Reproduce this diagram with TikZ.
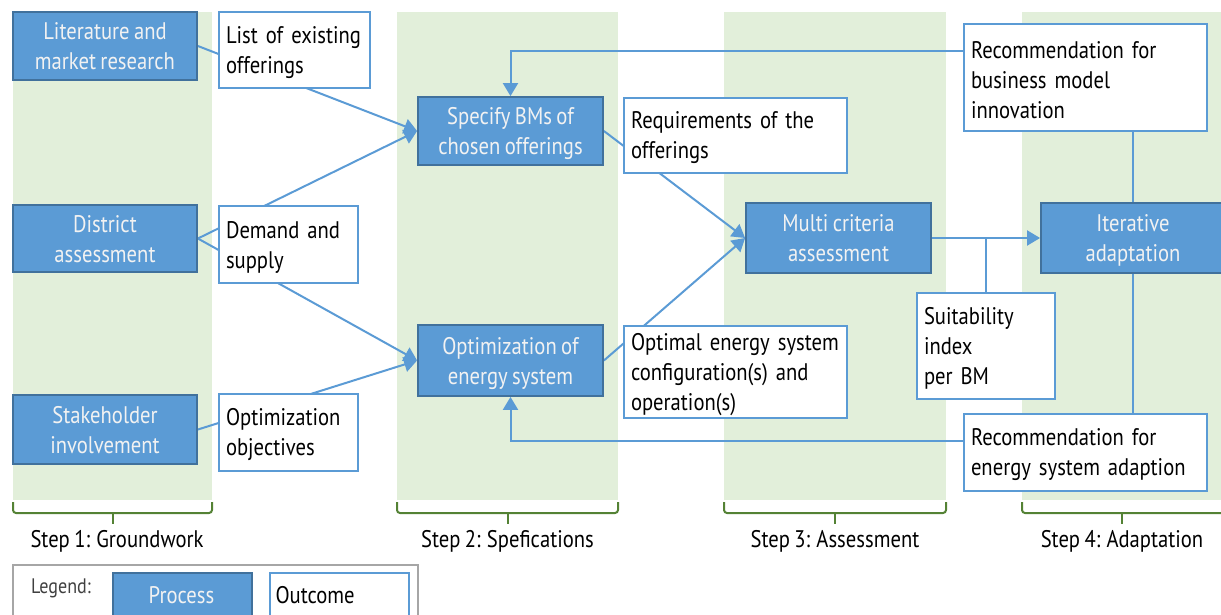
\documentclass[tikz,border=0pt]{standalone}
\usepackage{fontspec}
\setmainfont{PT Sans}[FakeStretch=0.86,WordSpace=0.8]
\usetikzlibrary{arrows.meta}
\definecolor{procfill}{HTML}{5B9BD5}
\definecolor{procborder}{HTML}{41719C}
\definecolor{ocborder}{HTML}{5B9BD5}
\definecolor{colgreen}{HTML}{E2EFDA}
\definecolor{bracegreen}{HTML}{548235}
\definecolor{legendgray}{HTML}{A6A6A6}
\definecolor{legendtext}{HTML}{404040}
\pgfdeclarelayer{bg}
\pgfdeclarelayer{lines}
\pgfsetlayers{bg,lines,main}
\tikzset{
  txt/.style={font=\fontsize{24}{30}\selectfont},
  pr/.style={txt, fill=procfill, draw=procborder, line width=1.8pt, text=white!95!black, align=center, inner sep=0pt, text depth=0pt},
  oc/.style={txt, fill=white, draw=ocborder, line width=1.8pt, align=left, inner xsep=7pt, inner ysep=0pt, execute at begin node={\rule{0pt}{22pt}}},
  conn/.style={draw=ocborder, line width=2pt},
  arr/.style={conn, -{Triangle[length=13pt,width=15pt]}},
  col/.style={fill=colgreen, draw=none},
  brace/.style={draw=bracegreen, line width=2pt, rounded corners=3pt},
  steplabel/.style={txt}
}
\begin{document}
\begin{tikzpicture}[x=1pt,y=-1pt]
\useasboundingbox (0,0) rectangle (1221,614);
% columns
\begin{pgfonlayer}{bg}
\fill[col] (13,12) rectangle (212,500);
\fill[col] (397,12) rectangle (618,500);
\fill[col] (724,12) rectangle (946,500);
\fill[col] (1022,12) rectangle (1230,500);
\end{pgfonlayer}
% process nodes
\node[pr, minimum width=184pt, minimum height=68pt] (lit) at (105,46) {Literature and\\market research};
\node[pr, minimum width=184pt, minimum height=67pt] (dist) at (105,238.5) {District\\assessment};
\node[pr, minimum width=184pt, minimum height=69pt] (stake) at (105,429.5) {Stakeholder\\involvement};
\node[pr, minimum width=185pt, minimum height=68pt] (spec) at (510.5,131) {Specify BMs of\\chosen offerings};
\node[pr, minimum width=185pt, minimum height=71pt] (opt) at (510.5,360.5) {Optimization of\\energy system};
\node[pr, minimum width=185pt, minimum height=70pt] (multi) at (838.5,238) {Multi criteria\\assessment};
\node[pr, minimum width=184pt, minimum height=70pt] (iter) at (1133,238) {Iterative\\adaptation};
% outcome nodes
\node[oc, text width=137pt, minimum height=76pt] (list) at (294.5,50) {List of existing\\offerings};
\node[oc, text width=125pt, minimum height=77pt] (dem) at (288.5,244.5) {Demand and\\supply};
\node[oc, text width=125pt, minimum height=77pt] (obj) at (288.5,432.5) {Optimization\\objectives};
\node[oc, text width=209pt, minimum height=75pt] (req) at (735.5,135.5) {Requirements of the\\offerings};
\node[oc, text width=209pt, minimum height=92pt] (optes) at (735.5,372) {Optimal energy system\\configuration(s) and\\operation(s)};
\node[oc, text width=229pt, minimum height=107pt] (recbus) at (1085.5,77.5) {Recommendation for\\business model\\innovation};
\node[oc, text width=124pt, minimum height=106pt] (suit) at (986,346) {Suitability\\index\\per BM};
\node[oc, text width=229pt, minimum height=77pt] (reces) at (1085.5,452.5) {Recommendation for\\energy system adaption};
% connectors
\begin{pgfonlayer}{lines}
\draw[arr] (lit.east) -- (spec.west);
\draw[arr] (dist.east) -- (spec.west);
\draw[arr] (dist.east) -- (opt.west);
\draw[arr] (stake.east) -- (opt.west);
\draw[arr] (spec.east) -- (multi.west);
\draw[arr] (opt.east) -- (multi.west);
\draw[arr] (multi.east) -- (iter.west);
\draw[conn] (suit.north) -- (suit.north |- multi.east);
\draw[arr] (iter.north) -- ++(0,-151) -| (spec.north);
\draw[arr] (iter.south) -- ++(0,167) -| (opt.south);
\end{pgfonlayer}
% braces
\draw[brace] (13,502) |- (212,513) -- (212,502);
\draw[brace] (112.5,513) -- (112.5,524);
\draw[brace] (397,502) |- (618,513) -- (618,502);
\draw[brace] (507.5,513) -- (507.5,524);
\draw[brace] (724,502) |- (946,513) -- (946,502);
\draw[brace] (835,513) -- (835,524);
\draw[brace] (1022,502) |- (1230,513);
\draw[brace] (1122,513) -- (1122,524);
% step labels
\node[steplabel] (s1) at (117,541) {Step 1: Groundwork};
\node[steplabel] (s2) at (507.5,541) {Step 2: Spefications};
\node[steplabel] (s3) at (835,541) {Step 3: Assessment};
\node[steplabel] (s4) at (1122,541) {Step 4: Adaptation};
% legend
\draw[draw=legendgray, line width=1.5pt] (13,640) |- (418,565) -- (418,640);
\node[font=\fontsize{21}{24}\selectfont, text=legendtext] (lg) at (61,588) {Legend:};
\node[pr, anchor=north west, minimum width=139pt, minimum height=70pt] (lgp) at (112,572) {};
\node[txt, text=white!95!black] (lgpt) at (181.5,595) {Process};
\node[oc, anchor=north west, minimum width=139pt, minimum height=70pt] (lgo) at (269,572) {};
\node[txt, anchor=west] (lgot) at (272,595) {Outcome};
\end{tikzpicture}
\end{document}
